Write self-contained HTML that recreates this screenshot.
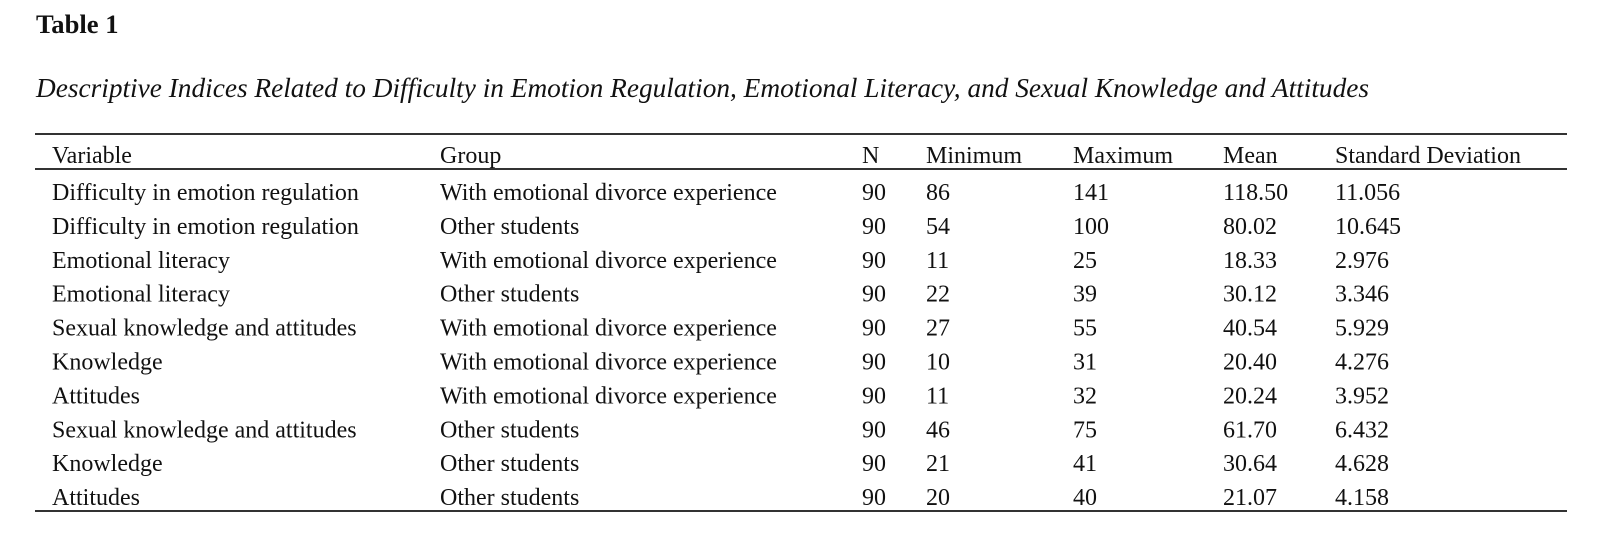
<!DOCTYPE html>
<html>
<head>
<meta charset="utf-8">
<style>
  html, body { margin:0; padding:0; background:#fff; }
  body { width:1597px; height:543px; overflow:hidden; }
  svg { display:block; }
  text { font-family: "Liberation Serif", "Times New Roman", serif; fill:#111; }
  .b { font-size:24px; }
</style>
</head>
<body>
<svg width="1597" height="543" viewBox="0 0 1597 543" xmlns="http://www.w3.org/2000/svg">
  <rect width="1597" height="543" fill="#fff"/>
  <text x="36" y="33" style="font-size:26.6px;font-weight:bold;">Table 1</text>
  <text x="36" y="97" style="font-size:27.3px;font-style:italic;" textLength="1333" lengthAdjust="spacingAndGlyphs">Descriptive Indices Related to Difficulty in Emotion Regulation, Emotional Literacy, and Sexual Knowledge and Attitudes</text>

  <line x1="35" y1="134" x2="1567" y2="134" stroke="#333" stroke-width="2"/>
  <line x1="35" y1="169" x2="1567" y2="169" stroke="#333" stroke-width="2"/>
  <line x1="35" y1="511" x2="1567" y2="511" stroke="#333" stroke-width="2"/>

  <g class="b">
    <text class="b" x="52" y="163">Variable</text>
    <text class="b" x="440" y="163">Group</text>
    <text class="b" x="862" y="163">N</text>
    <text class="b" x="926" y="163">Minimum</text>
    <text class="b" x="1073" y="163">Maximum</text>
    <text class="b" x="1223" y="163">Mean</text>
    <text class="b" x="1335" y="163">Standard Deviation</text>

    <text class="b" x="52" y="200">Difficulty in emotion regulation</text>
    <text class="b" x="440" y="200">With emotional divorce experience</text>
    <text class="b" x="862" y="200">90</text>
    <text class="b" x="926" y="200">86</text>
    <text class="b" x="1073" y="200">141</text>
    <text class="b" x="1223" y="200">118.50</text>
    <text class="b" x="1335" y="200">11.056</text>

    <text class="b" x="52" y="233.9">Difficulty in emotion regulation</text>
    <text class="b" x="440" y="233.9">Other students</text>
    <text class="b" x="862" y="233.9">90</text>
    <text class="b" x="926" y="233.9">54</text>
    <text class="b" x="1073" y="233.9">100</text>
    <text class="b" x="1223" y="233.9">80.02</text>
    <text class="b" x="1335" y="233.9">10.645</text>

    <text class="b" x="52" y="267.8">Emotional literacy</text>
    <text class="b" x="440" y="267.8">With emotional divorce experience</text>
    <text class="b" x="862" y="267.8">90</text>
    <text class="b" x="926" y="267.8">11</text>
    <text class="b" x="1073" y="267.8">25</text>
    <text class="b" x="1223" y="267.8">18.33</text>
    <text class="b" x="1335" y="267.8">2.976</text>

    <text class="b" x="52" y="301.7">Emotional literacy</text>
    <text class="b" x="440" y="301.7">Other students</text>
    <text class="b" x="862" y="301.7">90</text>
    <text class="b" x="926" y="301.7">22</text>
    <text class="b" x="1073" y="301.7">39</text>
    <text class="b" x="1223" y="301.7">30.12</text>
    <text class="b" x="1335" y="301.7">3.346</text>

    <text class="b" x="52" y="335.6">Sexual knowledge and attitudes</text>
    <text class="b" x="440" y="335.6">With emotional divorce experience</text>
    <text class="b" x="862" y="335.6">90</text>
    <text class="b" x="926" y="335.6">27</text>
    <text class="b" x="1073" y="335.6">55</text>
    <text class="b" x="1223" y="335.6">40.54</text>
    <text class="b" x="1335" y="335.6">5.929</text>

    <text class="b" x="52" y="369.5">Knowledge</text>
    <text class="b" x="440" y="369.5">With emotional divorce experience</text>
    <text class="b" x="862" y="369.5">90</text>
    <text class="b" x="926" y="369.5">10</text>
    <text class="b" x="1073" y="369.5">31</text>
    <text class="b" x="1223" y="369.5">20.40</text>
    <text class="b" x="1335" y="369.5">4.276</text>

    <text class="b" x="52" y="403.4">Attitudes</text>
    <text class="b" x="440" y="403.4">With emotional divorce experience</text>
    <text class="b" x="862" y="403.4">90</text>
    <text class="b" x="926" y="403.4">11</text>
    <text class="b" x="1073" y="403.4">32</text>
    <text class="b" x="1223" y="403.4">20.24</text>
    <text class="b" x="1335" y="403.4">3.952</text>

    <text class="b" x="52" y="437.3">Sexual knowledge and attitudes</text>
    <text class="b" x="440" y="437.3">Other students</text>
    <text class="b" x="862" y="437.3">90</text>
    <text class="b" x="926" y="437.3">46</text>
    <text class="b" x="1073" y="437.3">75</text>
    <text class="b" x="1223" y="437.3">61.70</text>
    <text class="b" x="1335" y="437.3">6.432</text>

    <text class="b" x="52" y="471.2">Knowledge</text>
    <text class="b" x="440" y="471.2">Other students</text>
    <text class="b" x="862" y="471.2">90</text>
    <text class="b" x="926" y="471.2">21</text>
    <text class="b" x="1073" y="471.2">41</text>
    <text class="b" x="1223" y="471.2">30.64</text>
    <text class="b" x="1335" y="471.2">4.628</text>

    <text class="b" x="52" y="505.1">Attitudes</text>
    <text class="b" x="440" y="505.1">Other students</text>
    <text class="b" x="862" y="505.1">90</text>
    <text class="b" x="926" y="505.1">20</text>
    <text class="b" x="1073" y="505.1">40</text>
    <text class="b" x="1223" y="505.1">21.07</text>
    <text class="b" x="1335" y="505.1">4.158</text>
  </g>
</svg>
</body>
</html>
